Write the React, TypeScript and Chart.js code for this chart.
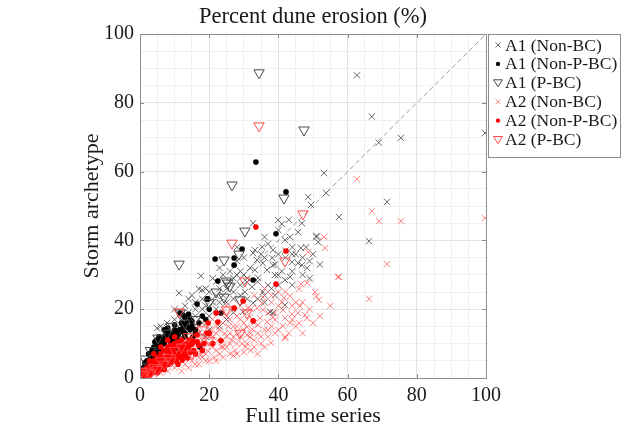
import React, { useEffect, useRef } from 'react';
import { Chart, registerables } from 'chart.js';

Chart.register(...registerables);

const FONT = '"Liberation Serif", "Times New Roman", Times, serif';

const chartTitle = 'Percent dune erosion (%)';
const xTitle = 'Full time series';
const yTitle = 'Storm archetype';
const tickValues = [0, 20, 40, 60, 80, 100];
const seriesNames = ['A1 (Non-BC)', 'A1 (Non-P-BC)', 'A1 (P-BC)', 'A2 (Non-BC)', 'A2 (Non-P-BC)', 'A2 (P-BC)'];

// A1 (Non-BC): grey crosses
const a1NonBC: number[][] = [
  [62.7, 88], [67, 76], [69, 68.4], [75.4, 69.8], [99.7, 71.2], [53.2, 59.6], [48.6, 52.6], [53.8, 53.8],
  [49.4, 50.3], [71.4, 51.2], [57.5, 46.8], [66.2, 39.8], [51, 41.3], [51.5, 39.5], [32.7, 45], [39.9, 45.9],
  [41, 44.8], [46.8, 45], [45.7, 42.4], [41.9, 40.1], [43.4, 41], [51, 41], [46.5, 37.8], [35.3, 38.1],
  [33.2, 37.2], [38.4, 37.2], [32.7, 36.3], [33.8, 34.3], [35.5, 33.4], [38.2, 34.9], [38.4, 32.8], [31.8, 32],
  [33.2, 31.4], [36.7, 31.4], [39, 29.9], [34.1, 29.1], [30.9, 27.9], [32.4, 26.5], [30.3, 25], [35.5, 25],
  [45.7, 33.4], [46.8, 32.8], [48.3, 32], [43.9, 33.7], [43.4, 29.4], [41.9, 28.5], [39.9, 29.9], [32.7, 21.8],
  [29.8, 19.2], [37.6, 19.2], [38.4, 18.9], [41.9, 21.2], [17.6, 29.7], [11.3, 24.7], [17, 25.9], [17.9, 25.6],
  [4.9, 14.5], [7.8, 16], [9.5, 13.4], [22, 20], [24, 24], [26, 28], [28, 30], [27, 25], [25, 22], [29, 27],
  [21, 22], [23, 26], [20, 18], [19, 21], [26, 31], [28, 34], [24, 30], [30, 30], [22, 28], [25, 17], [27, 19],
  [23, 15], [20, 14], [18, 16], [16, 18], [14, 16], [13, 14], [12, 12], [11, 15], [10, 17], [9, 11], [8, 12],
  [7, 13], [6, 10], [5, 9], [4, 8], [3, 6], [2, 4], [1.5, 3], [12, 19], [13, 21], [16, 22], [14, 23], [19, 26],
  [21, 29], [23, 32], [30, 35], [28, 38], [36, 41], [40, 43], [43, 46], [34, 28], [37, 27], [44, 36], [42, 35],
  [48, 38], [36, 22], [39, 24], [44, 27], [15, 24], [18, 20], [10, 20], [6, 15],
  [44, 38], [45, 36], [47, 35], [49, 34], [50, 36], [42, 37], [40, 36], [37, 39], [35, 36], [36, 35], [39, 33],
  [41, 31], [44, 31], [47, 30], [49, 29], [52, 33], [40, 27], [38, 26], [36, 24], [34, 23], [31, 23], [29, 24],
  [27, 23], [31, 29], [29, 31], [27, 29], [25, 26], [23, 22], [22, 24], [20, 25], [18, 23], [16, 20], [14, 19],
  [12, 17], [15, 14], [17, 13], [19, 12]
];

// A1 (Non-P-BC): black dots
const a1NonPBC: number[][] = [
  [33.5, 62.8], [42.2, 54.1], [39.3, 41.9], [29.5, 37.5], [21.7, 34.6], [27.2, 34.9], [27.2, 32.8], [22.5, 28.2],
  [32.7, 28.5], [19.4, 23], [16.5, 21.5], [19.6, 23], [23.4, 18.9], [11.6, 18.9], [12.4, 18.3], [13.6, 14.8],
  [14.5, 14], [12.4, 13.4], [10.1, 12.5], [7.8, 12.5], [4.9, 11], [4.3, 10.5], [5.8, 9.6], [3.5, 8.1], [9.5, 10.2],
  [8.7, 9], [10.7, 8.7], [15.3, 11.9], [17.3, 9], [1.4, 4.4], [11.6, 8.1], [6, 11.5], [7, 10], [8, 11], [9, 13],
  [11, 11], [13, 12], [14, 10], [16, 13], [6.5, 8], [5, 7], [3, 6], [2, 5], [4, 9], [2.5, 7], [12, 16], [10, 14],
  [8, 14.5], [5.5, 12], [13, 17.5], [15, 16.5],
  [3, 7], [4, 6.5], [5.5, 8.5], [6.5, 10.5], [7.5, 11], [8.5, 12], [9.5, 11.5], [10.5, 13], [11.5, 14], [12.5, 15],
  [13.5, 16], [14.5, 17], [7, 12], [9, 10], [11, 12.5], [13, 13], [15, 15], [16, 14], [17, 16], [18, 18], [19, 17],
  [20, 20], [14, 18.5], [10, 15.5], [8, 13.5], [6, 9], [4.5, 7.5], [3.5, 5.5], [2, 3.5], [1, 3], [5, 10], [7, 14]
];

// A1 (P-BC): grey downward triangles
const a1PBC: number[][] = [
  [34.4, 88.7], [47.4, 72.1], [26.6, 56.1], [41.6, 52.3], [30.3, 42.7], [11.3, 33.1], [24.3, 34.3], [28.6, 36],
  [24.9, 28.2], [26, 26.7], [28.9, 22.7], [25.4, 27.6], [24.3, 23.5], [7.8, 13], [5.2, 11.6], [1.4, 5.5],
  [11.6, 18.9], [3, 8], [9, 15], [13, 16], [16, 17], [20, 22], [22, 25]
];

// A2 (Non-BC): light red crosses
const a2NonBC: number[][] = [
  [62.7, 57.8], [67, 48.5], [69.1, 45.6], [75.4, 45.6], [99.7, 46.5], [53.5, 37.8], [53.2, 41], [48.6, 36.6],
  [71.4, 33.1], [57.5, 29.4], [48.3, 27.6], [51, 23.8], [66.2, 23], [47.7, 18.3], [48.2, 17.4], [57.2, 29.4],
  [46.5, 27.3], [46, 25.9], [43.4, 23.8], [41.6, 23.3], [51.7, 22.7], [46.2, 20.9], [45.7, 18.9], [43.9, 18.6],
  [41.3, 19.8], [41.9, 17.4], [43.4, 16], [41.3, 15.1], [39, 16.9], [38.4, 17.7], [37, 18.9], [35.5, 19.8],
  [35.5, 23.5], [35.3, 21.8], [33.8, 20.3], [31.2, 20.3], [30.9, 19.2], [31.8, 17.7], [34.7, 17.4], [36.7, 16.3],
  [34.1, 15.4], [30.9, 14.8], [32.4, 14.2], [29.8, 14], [30.9, 12.5], [31.8, 11.9], [37.9, 10.2], [41.9, 11.6],
  [50.6, 25], [20, 10], [21, 12], [22, 8], [23, 14], [24, 11], [25, 9], [26, 13], [27, 15], [28, 10], [29, 17],
  [26, 7], [24, 16], [22, 15], [19, 13], [18, 9], [17, 11], [16, 8], [15, 12], [14, 9], [13, 7], [12, 10],
  [11, 8], [10, 6], [9, 7], [8, 5], [7, 6], [6, 4], [5, 5], [4, 3], [3, 2], [2, 2], [1, 1], [1.5, 0.5], [0.5, 1],
  [2.5, 3.5], [3.5, 4.5], [4.5, 2.5], [5.5, 3.5], [6.5, 5.5], [7.5, 4], [8.5, 6.5], [9.5, 5], [10.5, 7.5],
  [11.5, 6], [12.5, 8.5], [13.5, 11], [14.5, 6.5], [15.5, 9.5], [16.5, 13], [17.5, 7], [18.5, 12], [19.5, 8],
  [20.5, 14], [21.5, 6], [22.5, 11], [23.5, 9], [24.5, 13], [25.5, 15], [26.5, 11], [27.5, 8], [28.5, 13],
  [29.5, 10], [30.5, 9], [32, 8], [33, 11], [34, 7], [35, 12], [36, 9], [28, 18], [27, 20], [25, 18], [23, 19],
  [21, 17], [19, 16], [17, 15], [25, 21], [30, 22], [33, 24], [36, 26], [38, 22], [40, 25], [39, 13], [37, 14],
  [44, 21], [45, 15], [47, 13], [49, 20], [52, 18], [55, 21], [42, 12], [13, 4], [10, 3], [8, 2], [6, 1.5],
  [4, 1], [3, 0.5], [11, 5], [15, 5], [18, 6], [20, 5], [2, 1], [1, 0.3], [0.3, 0.2], [5, 2], [7, 3], [9, 4],
  [16, 10], [17, 6], [18, 11], [19, 7], [20, 12], [21, 9], [22, 13], [23, 7], [24, 9], [25, 12], [26, 10],
  [27, 12], [28, 7], [29, 12], [30, 16], [31, 10], [32, 13], [33, 9], [33, 16], [34, 13], [35, 10], [36, 14],
  [37, 12], [38, 15], [39, 19], [40, 14], [41, 22], [43, 13], [44, 17], [45, 22], [46, 16], [47, 22], [50, 16],
  [40, 21], [42, 25], [38, 24], [30, 7.5], [27, 6.5], [24, 6], [22, 5], [19, 5], [16, 4], [14, 3], [12, 2],
  [17, 4], [26, 17], [28, 15], [24, 19], [32, 20], [29, 21]
];

// A2 (Non-P-BC): red dots
const a2NonPBC: number[][] = [
  [33.5, 43.9], [42.2, 36.9], [39.3, 27.3], [29.8, 22.4], [32.7, 16.6], [22, 18.9], [22.5, 16.3], [27.2, 20.3],
  [19.7, 16], [19.4, 13.1], [23.4, 10.8], [16.5, 12.5], [15.3, 10.8], [1, 1], [2, 1.5], [3, 2], [4, 2.5],
  [5, 3], [6, 4], [7, 4.5], [8, 5], [9, 6], [10, 6.5], [11, 7], [12, 8], [13, 8.5], [14, 9], [2, 3], [3, 4],
  [4, 5], [5, 6], [6, 7], [7, 8], [8, 9], [9, 9.5], [10, 10], [11, 10.5], [12, 11], [1, 2], [0.5, 0.5],
  [1.5, 0.8], [2.5, 2], [3.5, 1.5], [4.5, 3.5], [5.5, 4.5], [6.5, 3], [7.5, 6], [8.5, 7], [9.5, 8], [10.5, 5],
  [11.5, 9], [12.5, 6.5], [13.5, 10], [14.5, 7.5], [15.5, 8], [3, 1], [5, 1.5], [7, 2.5], [0.8, 1.5],
  [1.8, 2.5], [2.8, 5], [4, 7], [6, 9], [8, 11], [10, 12], [11, 4],
  [0.3, 0.3], [0.6, 1.2], [1.2, 0.4], [1.7, 1.7], [2.2, 0.8], [2.7, 2.8], [3.2, 3], [3.7, 2.2], [4.2, 4],
  [4.7, 1.8], [5.2, 4.2], [5.7, 2.4], [6.2, 5.8], [6.7, 4.8], [7.2, 3.5], [7.7, 5.2], [8.2, 4], [8.7, 8],
  [9.2, 4.6], [9.7, 7], [10.2, 5.8], [10.7, 9], [11.2, 6.2], [11.7, 8], [12.2, 5.2], [12.7, 9.5], [13.2, 7],
  [13.7, 5.8], [14.2, 11], [15, 9.8], [16, 7], [17, 9.5], [18, 8], [16.5, 10.5], [18.5, 10], [20, 13], [21, 10],
  [6, 6], [8, 7.5], [10, 9], [3, 3.2], [5, 4.8]
];

// A2 (P-BC): red downward triangles
const a2PBC: number[][] = [
  [34.4, 73.3], [26.6, 39.2], [47.1, 47.7], [41.9, 34], [30.3, 28.2], [11.3, 19.2], [25, 19.8], [28.9, 13],
  [30.9, 18.9], [1, 1], [2, 2], [3, 1.5], [4, 3], [5, 2.5], [6, 5], [7, 4], [8, 6], [9, 5], [10, 8], [12, 9],
  [14, 12], [15, 7], [0.5, 2], [18, 14], [20, 11]
];

const diagonal: number[][] = [[0, 0], [100, 100]];

const toPts = (a: number[][]) => a.map(([x, y]) => ({ x, y }));

const GREY_X = 'rgba(70,70,70,0.8)';
const RED_X = 'rgba(255,50,50,0.6)';
const GREY_TRI = '#4a4a4a';
const RED_TRI = '#ff4a4a';
const AXIS = '#8c8c8c';

const legendItems = [
  { style: 'x', color: GREY_X },
  { style: 'dot', color: '#000' },
  { style: 'tri', color: GREY_TRI },
  { style: 'x', color: RED_X },
  { style: 'dot', color: '#ff0000' },
  { style: 'tri', color: RED_TRI },
];

const framePlugin = {
  id: 'frameAndLegend',
  afterDraw(chart: any) {
    const { ctx, chartArea } = chart;
    const { left, right, top, bottom } = chartArea;
    const xs = chart.scales.x;
    const ys = chart.scales.y;
    ctx.save();
    ctx.strokeStyle = AXIS;
    ctx.lineWidth = 1;
    ctx.strokeRect(Math.round(left) + 0.5, Math.round(top) + 0.5, Math.round(right - left), Math.round(bottom - top));
    ctx.beginPath();
    for (const v of tickValues) {
      const px = Math.round(xs.getPixelForValue(v)) + 0.5;
      ctx.moveTo(px, bottom); ctx.lineTo(px, bottom - 4);
      ctx.moveTo(px, top); ctx.lineTo(px, top + 4);
      const py = Math.round(ys.getPixelForValue(v)) + 0.5;
      ctx.moveTo(left, py); ctx.lineTo(left + 4, py);
      ctx.moveTo(right, py); ctx.lineTo(right - 4, py);
    }
    ctx.stroke();

    // legend
    const lx = 488, ly = 34, lw = 132, lh = 123;
    ctx.fillStyle = '#fff';
    ctx.fillRect(lx, ly, lw, lh);
    ctx.strokeStyle = AXIS;
    ctx.strokeRect(lx + 0.5, ly + 0.5, lw, lh);
    ctx.font = '17.5px ' + FONT;
    ctx.textBaseline = 'middle';
    ctx.textAlign = 'left';
    seriesNames.forEach((name, i) => {
      const cy = 45 + i * 18.9;
      const cx = 498;
      const it = legendItems[i];
      ctx.lineWidth = 1;
      if (it.style === 'x') {
        ctx.strokeStyle = it.color;
        ctx.beginPath();
        ctx.moveTo(cx - 2.5, cy - 2.5); ctx.lineTo(cx + 2.5, cy + 2.5);
        ctx.moveTo(cx - 2.5, cy + 2.5); ctx.lineTo(cx + 2.5, cy - 2.5);
        ctx.stroke();
      } else if (it.style === 'dot') {
        ctx.fillStyle = it.color;
        ctx.beginPath();
        ctx.arc(cx, cy, 2.2, 0, Math.PI * 2);
        ctx.fill();
      } else {
        ctx.strokeStyle = it.color;
        ctx.beginPath();
        ctx.moveTo(cx - 4.5, cy - 3);
        ctx.lineTo(cx + 4.5, cy - 3);
        ctx.lineTo(cx, cy + 4);
        ctx.closePath();
        ctx.stroke();
      }
      ctx.fillStyle = '#1a1a1a';
      ctx.fillText(name, 505, cy + 1);
    });
    ctx.restore();
  },
};

const gridColor = (c: any) => (c.tick && Math.round(c.tick.value) % 20 === 0 ? '#e3e3e3' : '#f0f0f0');

export default function App() {
  const ref = useRef<HTMLCanvasElement | null>(null);
  useEffect(() => {
    if (!ref.current) return;
    const chart = new Chart(ref.current, {
      type: 'scatter',
      data: {
        datasets: [
          {
            label: 'diagonal', data: toPts(diagonal), showLine: true, borderColor: '#9a9a9a', borderWidth: 1,
            borderDash: [5, 3], pointRadius: 0, order: 10,
          } as any,
          {
            label: seriesNames[0], data: toPts(a1NonBC), pointStyle: 'crossRot', pointRadius: 4.5,
            borderColor: GREY_X, backgroundColor: 'rgba(0,0,0,0)', borderWidth: 1, order: 6,
          },
          {
            label: seriesNames[1], data: toPts(a1NonPBC), pointStyle: 'circle', pointRadius: 2.8,
            borderColor: '#000', backgroundColor: '#000', borderWidth: 0, order: 5,
          },
          {
            label: seriesNames[2], data: toPts(a1PBC), pointStyle: 'triangle', pointRotation: 180, pointRadius: 6,
            borderColor: GREY_TRI, backgroundColor: 'rgba(0,0,0,0)', borderWidth: 1, order: 4,
          },
          {
            label: seriesNames[3], data: toPts(a2NonBC), pointStyle: 'crossRot', pointRadius: 4.5,
            borderColor: RED_X, backgroundColor: 'rgba(0,0,0,0)', borderWidth: 1, order: 3,
          },
          {
            label: seriesNames[4], data: toPts(a2NonPBC), pointStyle: 'circle', pointRadius: 2.8,
            borderColor: '#ff0000', backgroundColor: '#ff0000', borderWidth: 0, order: 2,
          },
          {
            label: seriesNames[5], data: toPts(a2PBC), pointStyle: 'triangle', pointRotation: 180, pointRadius: 6,
            borderColor: RED_TRI, backgroundColor: 'rgba(0,0,0,0)', borderWidth: 1, order: 1,
          },
        ],
      },
      options: {
        animation: false,
        responsive: false,
        devicePixelRatio: 1,
        events: [],
        layout: { padding: { left: 5, right: 0, top: 0, bottom: 0 } },
        plugins: {
          legend: { display: false },
          tooltip: { enabled: false },
          title: {
            display: true, text: chartTitle, color: '#1a1a1a',
            font: { family: FONT, size: 22.5, weight: 'normal' }, padding: { top: 4, bottom: 3 },
          },
        },
        scales: {
          x: {
            type: 'linear', min: 0, max: 100,
            afterFit: (s: any) => { s.height = 51; },
            grid: { color: gridColor, drawTicks: false, lineWidth: 1 },
            border: { display: false },
            ticks: {
              stepSize: 5, autoSkip: false, maxRotation: 0, padding: 6, color: '#1a1a1a',
              font: { family: FONT, size: 20 },
              callback: (v: any) => (Math.round(v) % 20 === 0 ? String(v) : ''),
            },
            title: {
              display: true, text: xTitle, color: '#1a1a1a',
              font: { family: FONT, size: 22 }, padding: { top: 0, bottom: 0 },
            },
          },
          y: {
            type: 'linear', min: 0, max: 100,
            afterFit: (s: any) => { s.width = 135; },
            grid: { color: gridColor, drawTicks: false, lineWidth: 1 },
            border: { display: false },
            ticks: {
              stepSize: 5, autoSkip: false, padding: 6, color: '#1a1a1a',
              font: { family: FONT, size: 20 },
              callback: (v: any) => (Math.round(v) % 20 === 0 ? String(v) : ''),
            },
            title: {
              display: true, text: yTitle, color: '#1a1a1a',
              font: { family: FONT, size: 22 }, padding: { top: 73.8, bottom: 0 },
            },
          },
          yRight: {
            type: 'linear', position: 'right', display: true,
            afterFit: (s: any) => { s.width = 135; },
            grid: { display: false, drawTicks: false },
            border: { display: false },
            ticks: { display: false },
          },
        },
      } as any,
      plugins: [framePlugin],
    });
    return () => chart.destroy();
  }, []);
  return (
    <div style={{ position: 'fixed', left: 0, top: 0, width: 621, height: 429, background: '#fff' }}>
      <canvas ref={ref} width={621} height={429} style={{ display: 'block' }} />
    </div>
  );
}
